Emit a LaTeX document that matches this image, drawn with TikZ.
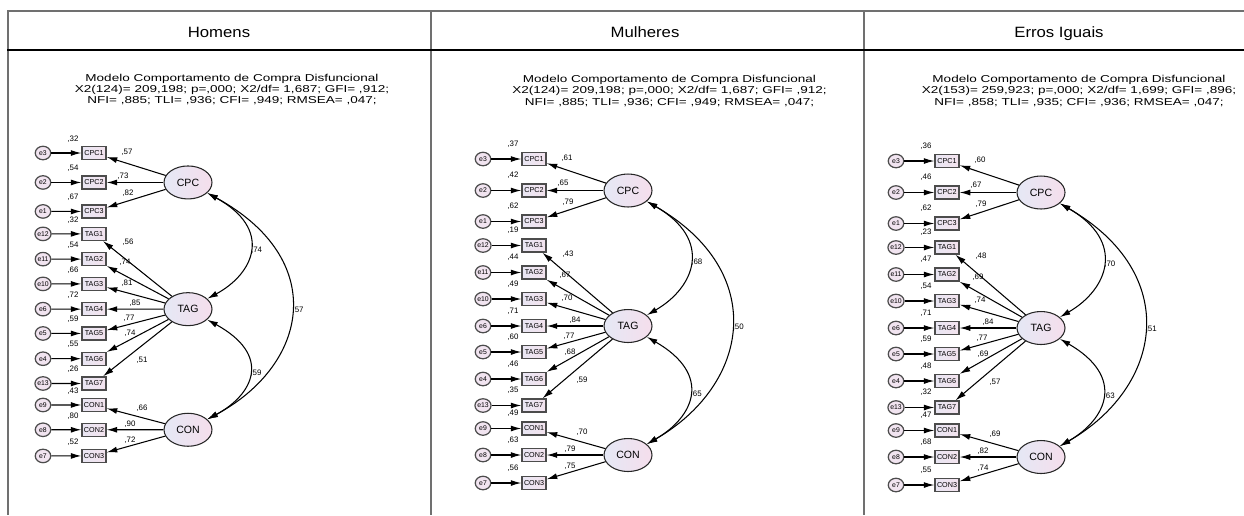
\documentclass[tikz,border=0pt]{standalone}
\usepackage{fontspec}
\setmainfont{Liberation Sans}
\newfontfamily\headfont{Liberation Sans}[FakeStretch=1.12]
\newfontfamily\widefont{Liberation Sans}[FakeStretch=1.35]
\usetikzlibrary{arrows.meta,shapes.geometric}

\definecolor{framegray}{HTML}{707070}
\definecolor{obsleft}{HTML}{E9E6F3}
\definecolor{obsright}{HTML}{F3E3EE}
\definecolor{errfill}{HTML}{F1E4F0}
\definecolor{latleft}{HTML}{E5E8F5}
\definecolor{latright}{HTML}{F5DEEC}

\tikzset{
  colhead/.style={font=\headfont\fontsize{8.5}{10}\selectfont, anchor=base},
  fittext/.style={font=\widefont\fontsize{5.7}{6.3}\selectfont, align=center},
  obs/.style={draw=black!70, line width=0.8pt, left color=obsleft, right color=obsright,
    minimum width=0.48cm, minimum height=0.26cm, inner sep=0pt, font=\fontsize{4.1}{5}\selectfont},
  err/.style={ellipse, draw=black!70, line width=0.7pt, fill=errfill,
    minimum width=0.31cm, minimum height=0.27cm, inner sep=0pt, font=\fontsize{3.9}{5}\selectfont},
  lat/.style={ellipse, draw=black!85, line width=0.6pt, left color=latleft, right color=latright,
    minimum width=0.96cm, minimum height=0.66cm, inner sep=0pt, font=\fontsize{6}{7}\selectfont},
  regr/.style={line width=0.6pt, -{Latex[length=6pt,width=3.4pt]}},
  cov/.style={line width=0.6pt, {Latex[length=6pt,width=3.4pt]}-{Latex[length=6pt,width=3.4pt]}},
  val/.style={font=\fontsize{4.5}{5}\selectfont, inner sep=0.5pt},
}

% #1 prefix, #2 shift, #3 yscale, #4 variances, #5 loadings, #6-#8 correlations
\newcommand{\semmodel}[8]{%
\begin{scope}[shift={#2}, yscale=#3, name prefix=#1-]
  \node[lat] (CPC) at (94,-31.5) {CPC};
  \node[lat] (TAG) at (94,-167) {TAG};
  \node[lat] (CON) at (94,-296) {CON};
  \foreach \ind/\er/\row/\lv/\dx/\dy [count=\i from 0] in
    {CPC1/e3/0/CPC/21/1, CPC2/e2/31.5/CPC/17/7, CPC3/e1/62.5/CPC/22/19,
     TAG1/e12/86.5/TAG/22/-9, TAG2/e11/113.5/TAG/19/-3, TAG3/e10/140/TAG/21/1,
     TAG4/e6/167/TAG/29/6, TAG5/e5/193/TAG/23/16, TAG6/e4/220/TAG/24/27,
     TAG7/e13/246.5/TAG/36/25, CON1/e9/269.5/CON/36/-4, CON2/e8/296/CON/24/6,
     CON3/e7/324/CON/24/17}{
    \pgfmathtruncatemacro\varv{{#4}[\i]}
    \pgfmathtruncatemacro\loadv{{#5}[\i]}
    \node[obs] (\ind) at (0,-\row) {\ind};
    \node[err] (\er) at (-51,-\row) {\er};
    \draw[regr] (\er) -- (\ind);
    \draw[regr] (\lv) -- (\ind);
    \node[val] (\ind-r2) at (-21,15-\row) {,\varv};
    \node[val] (\ind-ld) at (12+\dx,\dy-\row) {,\loadv};
  }
  \draw[cov] (CPC) to[out=-30, in=30, looseness=1.57] node[val, right, midway] (r-ct) {,#6} (TAG);
  \draw[cov] (CPC) to[out=-30, in=30, looseness=1.42] node[val, right, midway] (r-cc) {,#7} (CON);
  \draw[cov] (TAG) to[out=-30, in=30, looseness=1.63] node[val, right, midway] (r-tc) {,#8} (CON);
\end{scope}}

\begin{document}
\begin{tikzpicture}[x=0.02cm, y=0.02cm]
  \useasboundingbox (0,-515) rectangle (1244,0);

  % table frame
  \draw[framegray, line width=1.2pt] (7,-11) -- (1244,-11);
  \foreach \cx in {8,431,864}
    \draw[framegray, line width=1.3pt] (\cx,-11) -- (\cx,-515);
  \draw[line width=1.2pt] (7,-50) -- (1244,-50);

  % column heads
  \node[colhead] (head-h) at (219,-37.3) {Homens};
  \node[colhead] (head-m) at (645,-37.3) {Mulheres};
  \node[colhead] (head-ei) at (1059,-37.3) {Erros Iguais};

  % fit indices
  \node[fittext] (fit-h) at (232,-89.5) {Modelo Comportamento de Compra Disfuncional\\
    X2(124)= 209,198; p=,000; X2/df= 1,687; GFI= ,912;\\
    NFI= ,885; TLI= ,936; CFI= ,949; RMSEA= ,047;};
  \node[fittext] (fit-m) at (669.5,-91) {Modelo Comportamento de Compra Disfuncional\\
    X2(124)= 209,198; p=,000; X2/df= 1,687; GFI= ,912;\\
    NFI= ,885; TLI= ,936; CFI= ,949; RMSEA= ,047;};
  \node[fittext] (fit-ei) at (1079,-91) {Modelo Comportamento de Compra Disfuncional\\
    X2(153)= 259,923; p=,000; X2/df= 1,699; GFI= ,896;\\
    NFI= ,858; TLI= ,935; CFI= ,936; RMSEA= ,047;};

  % models
  \semmodel{h}{(94,-153)}{0.935}{32,54,67,32,54,66,72,59,55,26,43,80,52}%
    {57,73,82,56,74,81,85,77,74,51,66,90,72}{74}{57}{59}
  \semmodel{m}{(534,-159)}{1}{37,42,62,19,44,49,71,60,46,35,49,63,56}%
    {61,65,79,43,67,70,84,77,68,59,70,79,75}{68}{50}{65}
  \semmodel{ei}{(947,-161)}{1}{36,46,62,23,47,54,71,59,48,32,47,68,55}%
    {60,67,79,48,69,74,84,77,69,57,69,82,74}{70}{51}{63}
\end{tikzpicture}
\end{document}
